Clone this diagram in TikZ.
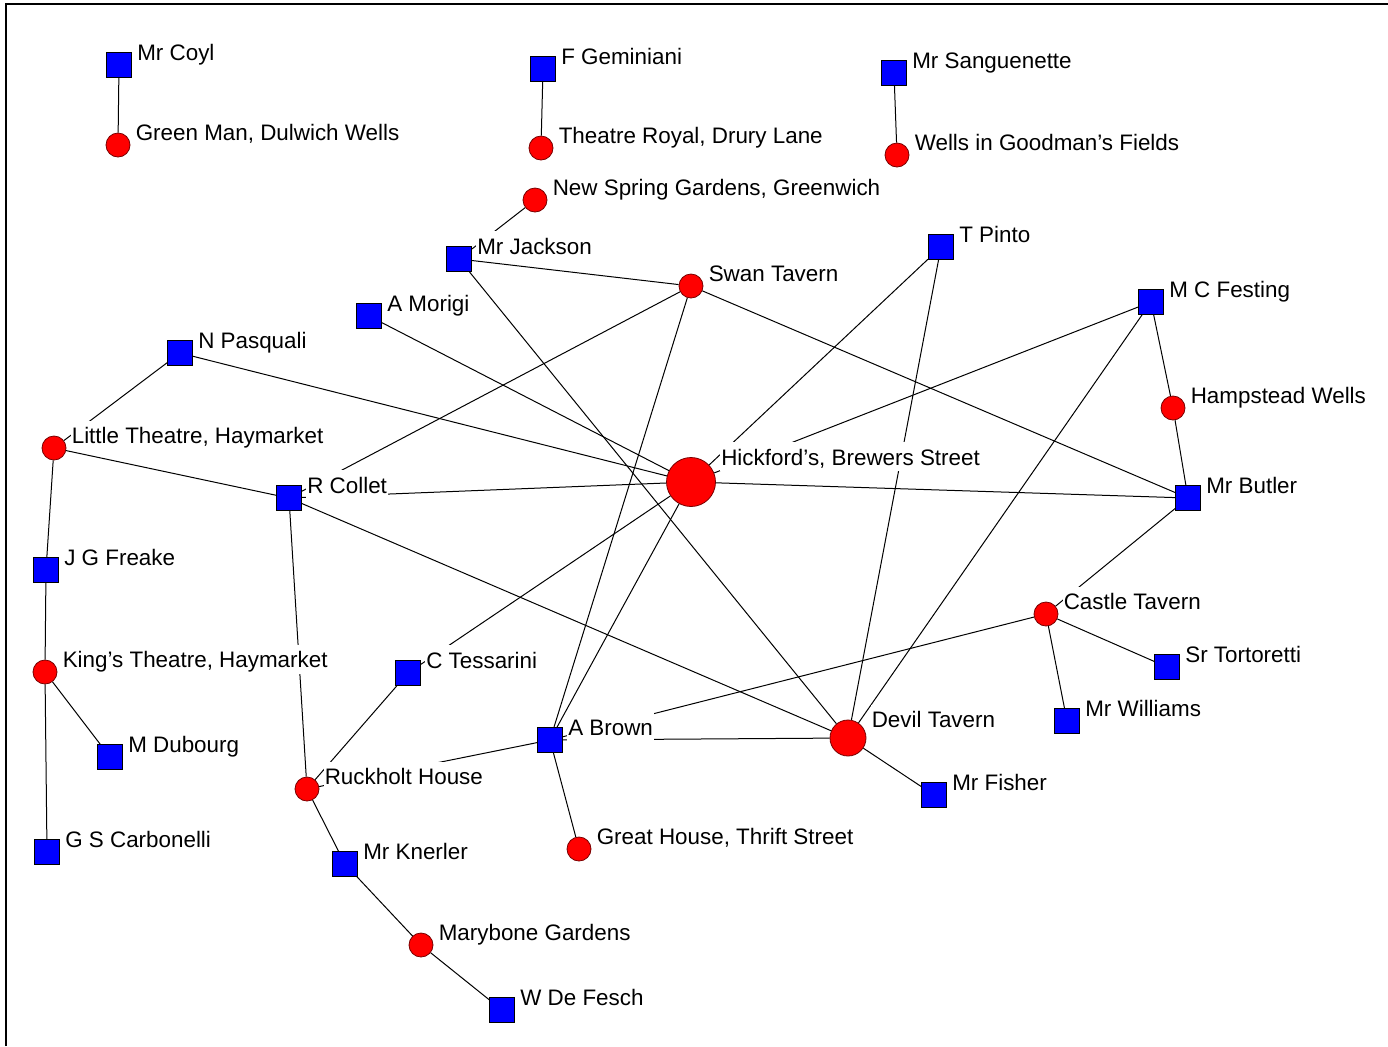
\documentclass[tikz,border=0pt]{standalone}
\usepackage{fontspec}
\setmainfont{Liberation Sans}
\usetikzlibrary{calc}

\definecolor{venuered}{RGB}{255,0,0}
\definecolor{venueedge}{RGB}{120,0,0}
\definecolor{playerblue}{RGB}{0,0,255}

\tikzset{
  venue/.style={circle, fill=venuered, draw=venueedge, line width=0.4pt, minimum size=12pt, inner sep=0pt},
  player/.style={rectangle, fill=playerblue, draw=black, line width=0.4pt, minimum size=12.5pt, inner sep=0pt},
  tag/.style={anchor=base west, fill=white, inner xsep=0.5pt, inner ysep=0pt, text height=11.5pt, text depth=3pt, font=\fontsize{11.2}{13}\selectfont},
  link/.style={draw=black, line width=0.5pt}
}

\begin{document}
\begin{tikzpicture}[x=0.5pt, y=-0.5pt]
\useasboundingbox (0,0) rectangle (1388,1046);
% frame
\draw[line width=1.2pt] (6,1046) -- (6,4) -- (1388,4);

% performers
\node[player] (coyl) at (119,65) {};
\node[player] (gemin) at (543,69) {};
\node[player] (sang) at (894,73) {};
\node[player] (jackson) at (459,259) {};
\node[player] (pinto) at (941,247) {};
\node[player] (morigi) at (369,316) {};
\node[player] (festing) at (1151,302) {};
\node[player] (pasq) at (180,353) {};
\node[player] (collet) at (289,498) {};
\node[player] (butler) at (1188,498) {};
\node[player] (freake) at (46,570) {};
\node[player] (tess) at (408,673) {};
\node[player] (tort) at (1167,667) {};
\node[player] (williams) at (1067,721) {};
\node[player] (brown) at (550,740) {};
\node[player] (dubourg) at (110,757) {};
\node[player] (fisher) at (934,795) {};
\node[player] (carbon) at (47,852) {};
\node[player] (knerler) at (345,864) {};
\node[player] (fesch) at (502,1010) {};

% venues
\node[venue] (green) at (118,145) {};
\node[venue] (drury) at (541,148) {};
\node[venue] (goodman) at (897,155) {};
\node[venue] (spring) at (535,200) {};
\node[venue] (swan) at (691,286) {};
\node[venue] (hamp) at (1173,408) {};
\node[venue] (little) at (54,448) {};
\node[venue, minimum size=24.5pt] (hick) at (691,482) {};
\node[venue] (castle) at (1046,614) {};
\node[venue] (kings) at (45,672) {};
\node[venue, minimum size=18pt] (devil) at (848,738) {};
\node[venue] (ruck) at (307,789) {};
\node[venue] (great) at (579,849) {};
\node[venue] (mary) at (421,945) {};

% ties
\draw[link] (coyl) -- (green);
\draw[link] (gemin) -- (drury);
\draw[link] (sang) -- (goodman);
\draw[link] (spring) -- (jackson);
\draw[link] (jackson) -- (swan);
\draw[link] (jackson) -- (devil);
\draw[link] (morigi) -- (hick);
\draw[link] (pasq) -- (hick);
\draw[link] (pasq) -- (little);
\draw[link] (little) -- (collet);
\draw[link] (little) -- (freake);
\draw[link] (freake) -- (kings);
\draw[link] (kings) -- (carbon);
\draw[link] (kings) -- (dubourg);
\draw[link] (collet) -- (hick);
\draw[link] (collet) -- (swan);
\draw[link] (collet) -- (devil);
\draw[link] (collet) -- (ruck);
\draw[link] (ruck) -- (tess);
\draw[link] (ruck) -- (brown);
\draw[link] (ruck) -- (knerler);
\draw[link] (knerler) -- (mary);
\draw[link] (mary) -- (fesch);
\draw[link] (tess) -- (hick);
\draw[link] (brown) -- (hick);
\draw[link] (brown) -- (swan);
\draw[link] (brown) -- (devil);
\draw[link] (brown) -- (great);
\draw[link] (brown) -- (castle);
\draw[link] (pinto) -- (hick);
\draw[link] (pinto) -- (devil);
\draw[link] (festing) -- (hick);
\draw[link] (festing) -- (devil);
\draw[link] (festing) -- (hamp);
\draw[link] (hamp) -- (butler);
\draw[link] (hick) -- (butler);
\draw[link] (swan) -- (butler);
\draw[link] (butler) -- (castle);
\draw[link] (castle) -- (tort);
\draw[link] (castle) -- (williams);
\draw[link] (devil) -- (fisher);

% names, set at the upper right corner of each mark
\node[tag] at ($(coyl.north -| coyl.east)+(4,8)$) {Mr Coyl};
\node[tag] at ($(gemin.north -| gemin.east)+(4,8)$) {F Geminiani};
\node[tag] at ($(sang.north -| sang.east)+(4,8)$) {Mr Sanguenette};
\node[tag] at ($(jackson.north -| jackson.east)+(4,8)$) {Mr Jackson};
\node[tag] at ($(pinto.north -| pinto.east)+(4,8)$) {T Pinto};
\node[tag] at ($(morigi.north -| morigi.east)+(4,8)$) {A Morigi};
\node[tag] at ($(festing.north -| festing.east)+(4,8)$) {M C Festing};
\node[tag] at ($(pasq.north -| pasq.east)+(4,8)$) {N Pasquali};
\node[tag] at ($(collet.north -| collet.east)+(4,8)$) {R Collet};
\node[tag] at ($(butler.north -| butler.east)+(4,8)$) {Mr Butler};
\node[tag] at ($(freake.north -| freake.east)+(4,8)$) {J G Freake};
\node[tag] at ($(tess.north -| tess.east)+(4,8)$) {C Tessarini};
\node[tag] at ($(tort.north -| tort.east)+(4,8)$) {Sr Tortoretti};
\node[tag] at ($(williams.north -| williams.east)+(4,8)$) {Mr Williams};
\node[tag] at ($(brown.north -| brown.east)+(4,8)$) {A Brown};
\node[tag] at ($(dubourg.north -| dubourg.east)+(4,8)$) {M Dubourg};
\node[tag] at ($(fisher.north -| fisher.east)+(4,8)$) {Mr Fisher};
\node[tag] at ($(carbon.north -| carbon.east)+(4,8)$) {G S Carbonelli};
\node[tag] at ($(knerler.north -| knerler.east)+(4,8)$) {Mr Knerler};
\node[tag] at ($(fesch.north -| fesch.east)+(4,8)$) {W De Fesch};
\node[tag] at ($(green.north -| green.east)+(4,8)$) {Green Man, Dulwich Wells};
\node[tag] at ($(drury.north -| drury.east)+(4,8)$) {Theatre Royal, Drury Lane};
\node[tag] at ($(goodman.north -| goodman.east)+(4,8)$) {Wells in Goodman's Fields};
\node[tag] at ($(spring.north -| spring.east)+(4,8)$) {New Spring Gardens, Greenwich};
\node[tag] at ($(swan.north -| swan.east)+(4,8)$) {Swan Tavern};
\node[tag] at ($(hamp.north -| hamp.east)+(4,8)$) {Hampstead Wells};
\node[tag] at ($(little.north -| little.east)+(4,8)$) {Little Theatre, Haymarket};
\node[tag] at ($(hick.north -| hick.east)+(4,8)$) {Hickford's, Brewers Street};
\node[tag] at ($(castle.north -| castle.east)+(4,8)$) {Castle Tavern};
\node[tag] at ($(kings.north -| kings.east)+(4,8)$) {King's Theatre, Haymarket};
\node[tag] at ($(devil.north -| devil.east)+(4,8)$) {Devil Tavern};
\node[tag] at ($(ruck.north -| ruck.east)+(4,8)$) {Ruckholt House};
\node[tag] at ($(great.north -| great.east)+(4,8)$) {Great House, Thrift Street};
\node[tag] at ($(mary.north -| mary.east)+(4,8)$) {Marybone Gardens};
\end{tikzpicture}
\end{document}
